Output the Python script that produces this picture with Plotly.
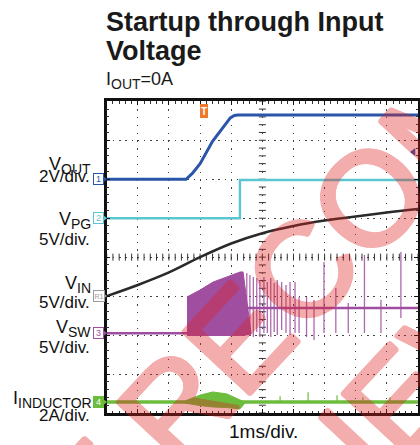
import numpy as np
import plotly.graph_objects as go

W, H = 420, 445
FONT = "Liberation Sans, Arial, sans-serif"

# ---- data (time in ms, 1 ms/div) ----
vout_t = [0, 2.55, 2.75, 3.0, 3.4, 3.75, 3.97, 4.1, 4.22, 10]
vout_v = [0, 0, 0.3, 0.8, 1.95, 2.7, 3.15, 3.27, 3.3, 3.3]

vpg_t = [0, 4.28, 4.28, 10]
vpg_v = [0, 0, 4.9, 4.9]

vin_t = [0, 1, 2, 3, 4, 5, 6, 7, 8, 9, 10]
vin_v = [0, 1.43, 3.04, 5.0, 6.75, 8.07, 9.0, 9.7, 10.22, 10.73, 11.18]

vsw_t = [0, 4.45, 4.5, 10]
vsw_v = [0, 0, 3.22, 3.22]
burst_t = [2.58, 3.0, 3.42, 3.87, 4.29, 4.38, 4.64]
burst_top = [4.64, 5.54, 6.56, 7.2, 7.85, 7.85, 0.4]
burst_bot = [-0.3, -0.3, -0.35, -0.35, -0.3, -0.3, -0.1]
spike_t = [4.50, 4.60, 4.71, 4.82, 4.92, 5.05, 5.16, 5.27, 5.38, 5.48, 5.62, 5.76,
           5.89, 6.05, 6.18, 6.42, 6.66, 6.98, 7.36, 7.76, 8.28, 8.81, 9.45]
spike_top = [7.72, 7.46, 7.2, 7.08, 6.82, 7.2, 6.56, 7.08, 6.43, 6.82, 6.56, 6.18,
             6.56, 6.56, 4.64, 4.64, 4.25, 9.13, 5.79, 3.87, 10.03, 4.25, 10.41]
spike_bot = [-0.24, -0.37, -0.5, 0.15, -0.5, 0.02, 0.02, -0.5, 0.15, -0.24, 0.4, 0.02,
             -0.24, 0.02, 0.02, -0.5, -0.88, 0.02, 0.02, 0.02, 0.02, 0.02, 1.94]

il_t = [0, 10]
il_a = [0, 0]
il_env_t = [2.52, 3.0, 3.41, 3.86, 4.28, 4.44]
il_env_top = [0.06, 0.36, 0.52, 0.42, 0.11, 0.0]
il_env_bot = [-0.05, -0.18, -0.25, -0.28, -0.35, -0.05]
il_spike_t = [5.57, 6.47, 7.40, 8.23, 9.1]
il_spike_a = [0.3, 0.5, 0.35, 0.25, 0.25]

# ---- channel settings (div offset, units/div, colour) ----
CH1 = dict(off=6.0, scale=2.0, color="#2b55a8")
CH2 = dict(off=5.0, scale=5.0, color="#5cc6d0")
CHR = dict(off=3.0, scale=5.0, color="#2a2a2a")
CH3 = dict(off=2.05, scale=5.0, color="#a04ea0")
CH4 = dict(off=0.28, scale=2.0, color="#6cbd3c")


def scr(vals, ch):
    return [None if v is None else ch["off"] + v / ch["scale"] for v in vals]


def seg(xs, y0s, y1s):
    X, Y = [], []
    for x, a, b in zip(xs, y0s, y1s):
        X += [x, x, None]
        Y += [a, b, None]
    return X, Y


fig = go.Figure()

# centre graticule ticks
xt = np.arange(0, 10.01, 0.2)
yt = np.arange(0, 8.01, 0.2)
fig.add_trace(go.Scatter(x=xt, y=[4] * len(xt), mode="markers", hoverinfo="skip",
                         marker=dict(symbol="line-ns", size=5, line=dict(width=1, color="#333"))))
fig.add_trace(go.Scatter(x=[5] * len(yt), y=yt, mode="markers", hoverinfo="skip",
                         marker=dict(symbol="line-ew", size=5, line=dict(width=1, color="#333"))))

# inductor current
fig.add_trace(go.Scatter(x=il_t, y=scr(il_a, CH4), mode="lines",
                         line=dict(color=CH4["color"], width=3.5)))
fig.add_trace(go.Scatter(x=il_env_t + il_env_t[::-1], y=scr(il_env_top + il_env_bot[::-1], CH4),
                         mode="lines", fill="toself", fillcolor=CH4["color"],
                         line=dict(color=CH4["color"], width=1)))
sx, sy = seg(il_spike_t, scr([0] * len(il_spike_t), CH4), scr(il_spike_a, CH4))
fig.add_trace(go.Scatter(x=sx, y=sy, mode="lines", line=dict(color=CH4["color"], width=1.2)))

# switch node
fig.add_trace(go.Scatter(x=vsw_t, y=scr(vsw_v, CH3), mode="lines",
                         line=dict(color=CH3["color"], width=2.5)))
fig.add_trace(go.Scatter(x=burst_t + burst_t[::-1], y=scr(burst_top + burst_bot[::-1], CH3),
                         mode="lines", fill="toself", fillcolor=CH3["color"],
                         line=dict(color=CH3["color"], width=1)))
sx, sy = seg(spike_t, scr(spike_bot, CH3), scr(spike_top, CH3))
fig.add_trace(go.Scatter(x=sx, y=sy, mode="lines", line=dict(color="rgba(160,78,160,0.85)", width=1.3)))

# VIN
fig.add_trace(go.Scatter(x=vin_t, y=scr(vin_v, CHR), mode="lines", line_shape="spline",
                         line=dict(color=CHR["color"], width=2.6)))
# VPG
fig.add_trace(go.Scatter(x=vpg_t, y=scr(vpg_v, CH2), mode="lines",
                         line=dict(color=CH2["color"], width=2.4)))
# VOUT
fig.add_trace(go.Scatter(x=vout_t, y=scr(vout_v, CH1), mode="lines",
                         line=dict(color=CH1["color"], width=3)))

x0p, x1p, y0p, y1p = 106.7, 418.0, 101.3, 413.0


def px(p):
    return p / W


def py(p):
    return 1 - p / H


ann = []


def text(t, x, y, size, color="#111", xa="left", ya="middle", angle=0):
    ann.append(dict(text=t, x=px(x), y=py(y), xref="paper", yref="paper", showarrow=False,
                    xanchor=xa, yanchor=ya, textangle=angle, borderpad=0, borderwidth=0,
                    font=dict(family=FONT, size=size, color=color)))


# title
text("<b>Startup through Input</b>", 105.5, 21.5, 27, "#1a1a1a")
text("<b>Voltage</b>", 105.5, 51.5, 27, "#1a1a1a")
text("I<sub><span style='font-size:14px'>OUT</span></sub>=0A", 106, 81, 18, "#1a1a1a")

# channel labels
SUB = "<sub><span style='font-size:14px'>%s</span></sub>"
text("V" + SUB % "OUT", 91, 165, 18, xa="right")
text("2V/div.", 89.5, 176.5, 17, xa="right")
text("V" + SUB % "PG", 91, 220, 18, xa="right")
text("5V/div.", 89.5, 239, 17, xa="right")
text("V" + SUB % "IN", 91, 284, 18, xa="right")
text("5V/div.", 89.5, 302.5, 17, xa="right")
text("V" + SUB % "SW", 91, 328, 18, xa="right")
text("5V/div.", 89.5, 347, 17, xa="right")
text("I" + SUB % "INDUCTOR", 92, 399, 18, xa="right")
text("2A/div.", 89.5, 415, 17, xa="right")
text("1ms/div.", 263, 431.5, 19, xa="center")

# channel ground markers
mk_x, mk_y, mk_c = [], [], []
for lab, ch, fill, fcol in [("1", CH1, "white", CH1["color"]), ("2", CH2, "white", CH2["color"]),
                            ("R1", dict(off=3.0, color="#9a9a9a"), "white", "#9a9a9a"),
                            ("3", CH3, "white", CH3["color"]), ("4", CH4, CH4["color"], "white")]:
    ypix = y1p - ch["off"] * (y1p - y0p) / 8
    ann.append(dict(text=lab, x=px(98.5), y=py(ypix), xref="paper", yref="paper", showarrow=False,
                    xanchor="center", yanchor="middle", bgcolor=fill, bordercolor=ch["color"],
                    borderwidth=1, borderpad=0, width=9 if lab != "R1" else 10, height=10,
                    font=dict(family=FONT, size=9 if lab != "R1" else 7, color=fcol)))
    mk_x.append(px(104.6))
    mk_y.append(py(ypix))
    mk_c.append(ch["color"])
fig.add_trace(go.Scatter(x=mk_x, y=mk_y, xaxis="x2", yaxis="y2", mode="markers", cliponaxis=False,
                         marker=dict(symbol="triangle-right", size=5, color=mk_c)))

# trigger marker
ann.append(dict(text="<b>T</b>", x=px(204), y=py(111.5), xref="paper", yref="paper", showarrow=False,
                xanchor="center", yanchor="middle", bgcolor="#f07828", borderpad=0, borderwidth=0,
                width=8, height=14, font=dict(family=FONT, size=10, color="white")))
fig.add_trace(go.Scatter(x=[px(413.5)], y=[py(152)], xaxis="x2", yaxis="y2", mode="markers",
                         cliponaxis=False,
                         marker=dict(symbol="triangle-left", size=7, color=CH1["color"])))

# watermark (regular weight, thickened with a symmetric shadow, translucent as a group)
WC = "rgb(222,32,32)"
sh = ", ".join("%.1fpx %.1fpx 0 %s" % (dx, dy, WC) for dx, dy in
               [(2, 0), (-2, 0), (0, 2), (0, -2), (1.4, 1.4), (-1.4, 1.4), (1.4, -1.4), (-1.4, -1.4)])
for t, cx, cy in [("NOT RECOMMENDED", 401, 165), ("FOR NEW DESIGNS", 517, 273)]:
    ann.append(dict(text=t, x=px(cx), y=py(cy), xref="paper", yref="paper", showarrow=False,
                    xanchor="center", yanchor="middle", textangle=-47, borderpad=0, borderwidth=0,
                    opacity=0.36, font=dict(family=FONT, size=133, color=WC, shadow=sh)))

fig.update_layout(
    width=W, height=H, margin=dict(l=0, r=0, t=0, b=0),
    paper_bgcolor="white", plot_bgcolor="rgba(0,0,0,0)", showlegend=False,
    annotations=ann,
    xaxis=dict(range=[0, 10], domain=[px(x0p), px(x1p)], dtick=1, showgrid=True,
               gridcolor="#444", gridwidth=1, griddash="1.5px,6.3px", zeroline=False,
               showticklabels=False, ticks="inside", ticklen=4, tickcolor="#111",
               minor=dict(ticks="inside", ticklen=2.5, dtick=0.2, tickcolor="#333", showgrid=False),
               showline=True, linecolor="#111", linewidth=2.5, mirror="allticks", fixedrange=True),
    yaxis=dict(range=[0, 8], domain=[py(y1p), py(y0p)], dtick=1, showgrid=True,
               gridcolor="#444", gridwidth=1, griddash="1.5px,4.7px", zeroline=False,
               showticklabels=False, ticks="inside", ticklen=4, tickcolor="#111",
               minor=dict(ticks="inside", ticklen=2.5, dtick=0.2, tickcolor="#333", showgrid=False),
               showline=True, linecolor="#111", linewidth=2.5, mirror="allticks", fixedrange=True),
    xaxis2=dict(range=[0, 1], domain=[0, 1], visible=False, fixedrange=True, anchor="y2"),
    yaxis2=dict(range=[0, 1], domain=[0, 1], visible=False, fixedrange=True, anchor="x2"),
)

fig.write_html("out.html", config={"displayModeBar": False},
               post_script="document.body.style.margin='0px';document.body.style.overflow='hidden';")
